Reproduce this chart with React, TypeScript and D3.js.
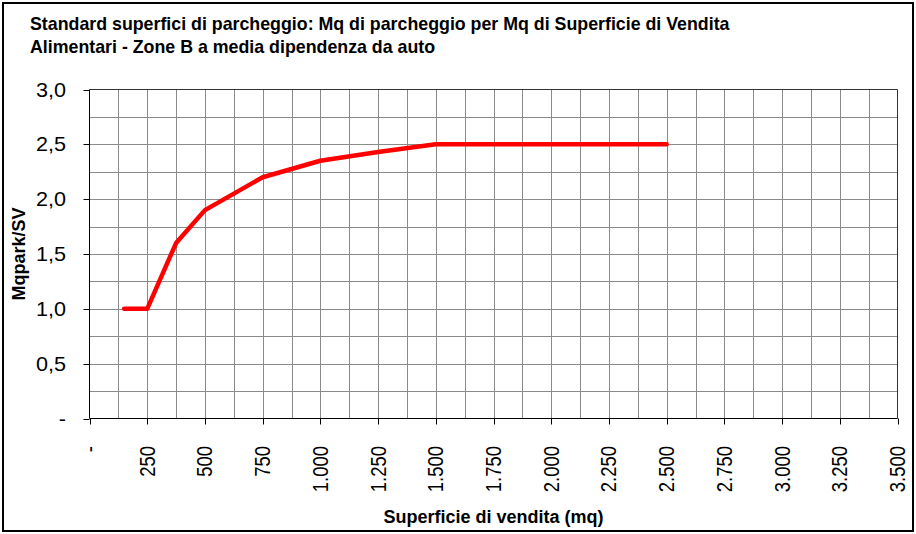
import * as d3 from "d3";

const title1 = "Standard superfici di parcheggio: Mq di parcheggio per Mq di Superficie di Vendita";
const title2 = "Alimentari - Zone B a media dipendenza da auto";
const xTitle = "Superficie di vendita (mq)";
const yTitle = "Mqpark/SV";

// superficie di vendita (mq)
const surface = [150, 250, 375, 500, 750, 1000, 1250, 1500, 1750, 2000, 2250, 2500];
// mq parcheggio per mq SV
const ratio = [1.0, 1.0, 1.6, 1.9, 2.2, 2.35, 2.43, 2.5, 2.5, 2.5, 2.5, 2.5];

const xTicks = [0, 250, 500, 750, 1000, 1250, 1500, 1750, 2000, 2250, 2500, 2750, 3000, 3250, 3500];
const yTicks = [0, 0.5, 1.0, 1.5, 2.0, 2.5, 3.0];

const W = 916;
const H = 534;
const font = "'Liberation Sans', Arial, sans-serif";

const fmtX = (v: number) => (v === 0 ? "-" : d3.format(",")(v).replace(/,/g, "."));
const fmtY = (v: number) => (v === 0 ? "-" : d3.format(".1f")(v).replace(".", ","));

export default function App() {
  const x = d3.scaleLinear().domain([0, 3500]).range([89.5, 897.5]);
  const y = d3.scaleLinear().domain([0, 3]).range([418.5, 89.5]);

  const xGrid = d3.range(125, 3500, 125);
  const yGrid = d3.range(0.25, 3, 0.25);

  const points = surface.map((s, i) => [s, ratio[i]] as [number, number]);
  const line = d3
    .line<[number, number]>()
    .x((d) => x(d[0]))
    .y((d) => y(d[1]));

  return (
    <svg
      width={W}
      height={H}
      style={{ position: "absolute", left: 0, top: 0, background: "#fff" }}
      fontFamily={font}
    >
      <rect x={0} y={0} width={W} height={H} fill="#fff" />
      <rect x={3} y={3} width={910} height={528} fill="none" stroke="#000" strokeWidth={2} />

      <text x={30} y={30} fontSize={17.8} fontWeight="bold" fill="#000">
        {title1}
      </text>
      <text x={30} y={53} fontSize={17.8} fontWeight="bold" fill="#000">
        {title2}
      </text>

      {/* grid */}
      <g stroke="#8a8a8a" strokeWidth={1}>
        {xGrid.map((v) => (
          <line key={"gx" + v} x1={Math.round(x(v)) + 0.5} x2={Math.round(x(v)) + 0.5} y1={y(3)} y2={y(0)} />
        ))}
        {yGrid.map((v) => (
          <line key={"gy" + v} x1={x(0)} x2={x(3500)} y1={Math.round(y(v)) + 0.5} y2={Math.round(y(v)) + 0.5} />
        ))}
      </g>
      <path
        d={`M${x(0)},${y(3)}H${x(3500)}V${y(0)}`}
        fill="none"
        stroke="#333"
        strokeWidth={1}
      />

      {/* axes */}
      <g stroke="#000" strokeWidth={1}>
        <line x1={x(0)} x2={x(0)} y1={y(3)} y2={y(0)} />
        <line x1={x(0)} x2={x(3500)} y1={y(0)} y2={y(0)} />
        {yTicks.map((v) => (
          <line key={"ty" + v} x1={x(0) - 6} x2={x(0)} y1={Math.round(y(v)) + 0.5} y2={Math.round(y(v)) + 0.5} />
        ))}
        {xTicks.map((v) => (
          <line key={"tx" + v} x1={Math.round(x(v)) + 0.5} x2={Math.round(x(v)) + 0.5} y1={y(0)} y2={y(0) + 6} />
        ))}
      </g>

      {yTicks.map((v) => (
        <text
          key={"ly" + v}
          transform={`translate(66,${y(v)}) scale(1.08,1)`}
          dy="0.35em"
          textAnchor="end"
          fontSize={20}
          fill="#000"
        >
          {fmtY(v)}
        </text>
      ))}
      {xTicks.map((v) => (
        <text
          key={"lx" + v}
          transform={`translate(${x(v)},446) rotate(-90) scale(1,1.15)`}
          dy="0.35em"
          textAnchor="end"
          fontSize={18.5}
          fill="#000"
        >
          {fmtX(v)}
        </text>
      ))}

      <text x={(x(0) + x(3500)) / 2} y={523} textAnchor="middle" fontSize={18} fontWeight="bold" fill="#000">
        {xTitle}
      </text>
      <text
        transform={`translate(25,${(y(0) + y(3)) / 2}) rotate(-90)`}
        textAnchor="middle"
        fontSize={18}
        fontWeight="bold"
        fill="#000"
      >
        {yTitle}
      </text>

      <path
        d={line(points) ?? ""}
        fill="none"
        stroke="#ff0000"
        strokeWidth={4.5}
        strokeLinecap="round"
        strokeLinejoin="round"
      />
    </svg>
  );
}
